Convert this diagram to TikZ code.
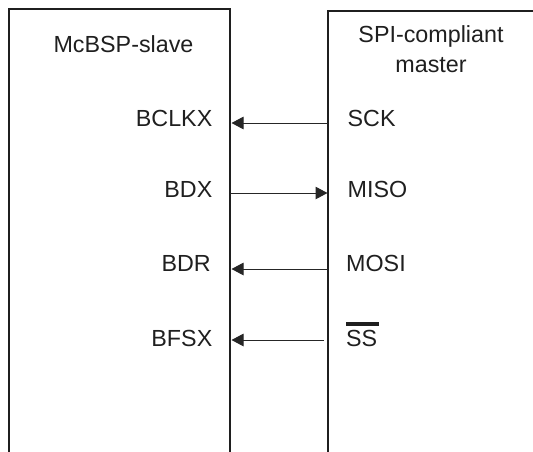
\documentclass[tikz,border=0pt]{standalone}
\usepackage{fontspec}
\setmainfont{Liberation Sans}
\usetikzlibrary{arrows.meta}
\begin{document}
\begin{tikzpicture}[x=1pt,y=-1pt,
  box/.style={line width=2.8pt, draw=black!88},
  lbl/.style={inner sep=0pt, font=\fontsize{23.3}{30}\selectfont, text=black!88},
  sig/.style={line width=1pt, draw=black!85, -{Triangle[length=12pt,width=12.5pt]}}]
\useasboundingbox (0,0) rectangle (533,451);
% boxes (open at the bottom)
\draw[box] (9,452) -- (9,9) -- (230,9) -- (230,452);
\draw[box] (328,452) -- (328,11) -- (535,11);
% titles
\node[lbl, anchor=base] (slave) at (123.5,52) {McBSP-slave};
\node[lbl, anchor=base] (spia) at (431,42) {SPI-compliant};
\node[lbl, anchor=base] (spib) at (431,72) {master};
% slave signal labels
\node[lbl, anchor=base east] (bclkx) at (212.5,126) {BCLKX};
\node[lbl, anchor=base east] (bdx)   at (212.5,197) {BDX};
\node[lbl, anchor=base east] (bdr)   at (211,271.5) {BDR};
\node[lbl, anchor=base east] (bfsx)  at (212.5,346) {BFSX};
% master signal labels
\node[lbl, anchor=base west] (sck)  at (347.5,126) {SCK};
\node[lbl, anchor=base west] (miso) at (347.5,197) {MISO};
\node[lbl, anchor=base west] (mosi) at (346,271.5) {MOSI};
\node[lbl, anchor=base west] (ss)   at (346,346) {\rlap{\rule[20.5pt]{33pt}{3.8pt}}SS};
% edge points
\coordinate (sL1) at (231.5,123);
\coordinate (mR1) at (328,123);
\coordinate (sL2) at (230,193);
\coordinate (mR2) at (327.5,193);
\coordinate (sL3) at (231.5,269);
\coordinate (mR3) at (328,269);
\coordinate (sL4) at (231.5,340);
\coordinate (mR4) at (324,340);
% connectors
\draw[sig] (mR1) -- (sL1);
\draw[sig] (sL2) -- (mR2);
\draw[sig] (mR3) -- (sL3);
\draw[sig] (mR4) -- (sL4);
\end{tikzpicture}
\end{document}
